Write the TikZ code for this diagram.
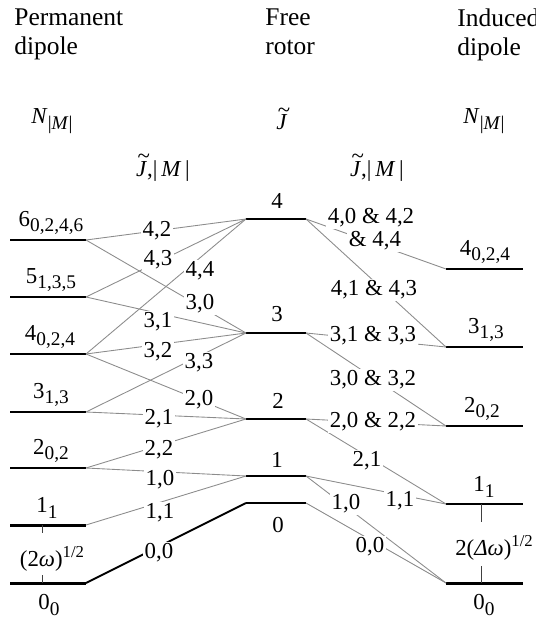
\documentclass[tikz,border=0pt]{standalone}
\usepackage{fontspec}
\setmainfont{Liberation Serif}
\usetikzlibrary{positioning}

\newcommand{\lsub}[1]{\raisebox{-0.5ex}{\fontsize{11}{13}\selectfont #1}}
\newcommand{\lsup}[1]{\raisebox{0.85ex}{\fontsize{9.5}{11}\selectfont #1}}
\newcommand{\Nm}{\textit{N}\lsub{|\textit{M}|}}
\newcommand{\Jt}{\textit{J}\llap{\raisebox{0.55em}{\textasciitilde}\kern-0.12em}}

\tikzset{
  every node/.style={font=\fontsize{13}{15.6}\selectfont},
  lvl/.style={line width=1.7pt},
  conn/.style={black!45, line width=0.5pt},
  lab/.style={fill=white, inner sep=1pt},
  head/.style={font=\fontsize{14.5}{17}\selectfont, align=left, anchor=north west, inner sep=0pt},
  tick/.style={black!75, line width=0.5pt},
}

\begin{document}
\begin{tikzpicture}[x=0.02cm, y=-0.02cm]
\useasboundingbox (0,0) rectangle (536,622);

% headings
\node[head] (hperm) at (14,8) {Permanent\\dipole};
\node[head] (hfree) at (265,8) {Free\\rotor};
\node[head] (hind) at (457,8) {Induced\\dipole};
\node (nperm) at (52,121) {\Nm};
\node (jfree) at (282,119) {\Jt};
\node (nind) at (484,121) {\Nm};
\node (jmleft) at (163,168) {\Jt,|\,\textit{M}\,|};
\node (jmright) at (377,168) {\Jt,|\,\textit{M}\,|};

% permanent dipole
\draw[lvl] (10,240) coordinate (L6w) -- (86,240) coordinate (L6e);
\draw[lvl] (10,297) coordinate (L5w) -- (86,297) coordinate (L5e);
\draw[lvl] (10,354) coordinate (L4w) -- (86,354) coordinate (L4e);
\draw[lvl] (10,412) coordinate (L3w) -- (86,412) coordinate (L3e);
\draw[lvl] (10,468) coordinate (L2w) -- (86,468) coordinate (L2e);
\draw[lvl] (10,525) coordinate (L1w) -- (86,525) coordinate (L1e);
\draw[lvl] (10,583) coordinate (L0w) -- (86,583) coordinate (L0e);
\node (tL6) at (51,223) {6\lsub{0,2,4,6}};
\node (tL5) at (51,280) {5\lsub{1,3,5}};
\node (tL4) at (50,337) {4\lsub{0,2,4}};
\node (tL3) at (51,395) {3\lsub{1,3}};
\node (tL2) at (51,451) {2\lsub{0,2}};
\node (tL1) at (47,508) {1\lsub{1}};
\node (tL0) at (49,605) {0\lsub{0}};
\node (wL) at (52,559) {(2\textit{ω})\lsup{1/2}};
\draw[tick] (42,525) -- (42,533);
\draw[tick] (42,575) -- (42,583);

% free rotor
\draw[lvl] (246,219) coordinate (M4w) -- (306,219) coordinate (M4e);
\draw[lvl] (246,333) coordinate (M3w) -- (306,333) coordinate (M3e);
\draw[lvl] (246,419) coordinate (M2w) -- (306,419) coordinate (M2e);
\draw[lvl] (246,476) coordinate (M1w) -- (306,476) coordinate (M1e);
\draw[lvl] (246,503) coordinate (M0w) -- (306,503) coordinate (M0e);
\node (tM4) at (277,201) {4};
\node (tM3) at (277,314) {3};
\node (tM2) at (278,401) {2};
\node (tM1) at (277,460) {1};
\node (tM0) at (278,525) {0};

% induced dipole
\draw[lvl] (446,269) coordinate (R4w) -- (523,269) coordinate (R4e);
\draw[lvl] (446,347) coordinate (R3w) -- (523,347) coordinate (R3e);
\draw[lvl] (446,426) coordinate (R2w) -- (523,426) coordinate (R2e);
\draw[lvl] (446,504) coordinate (R1w) -- (523,504) coordinate (R1e);
\draw[lvl] (446,583) coordinate (R0w) -- (523,583) coordinate (R0e);
\node (tR4) at (485,252) {4\lsub{0,2,4}};
\node (tR3) at (486,330) {3\lsub{1,3}};
\node (tR2) at (482,409) {2\lsub{0,2}};
\node (tR1) at (484,487) {1\lsub{1}};
\node (tR0) at (484,605) {0\lsub{0}};
\node (wR) at (494,548) {2(\textit{Δω})\lsup{1/2}};
\draw[tick] (481,504) -- (481,522);
\draw[tick] (481,566) -- (481,583);

% correlation lines, left
\draw[conn] (L6e) -- (M4w);
\draw[conn] (L6e) -- (M3w);
\draw[conn] (L5e) -- (M4w);
\draw[conn] (L5e) -- (M3w);
\draw[conn] (L4e) -- (M4w);
\draw[conn] (L4e) -- (M3w);
\draw[conn] (L4e) -- (M2w);
\draw[conn] (L3e) -- (M3w);
\draw[conn] (L3e) -- (M2w);
\draw[conn] (L2e) -- (M2w);
\draw[conn] (L2e) -- (M1w);
\draw[conn] (L1e) -- (M1w);
\draw[line width=1.1pt] (L0e) -- (M0w);
\node[lab] (a42) at (157,231) {4,2};
\node[lab] (a43) at (158,260) {4,3};
\node[lab] (a44) at (200,271) {4,4};
\node[lab] (a30) at (200,304) {3,0};
\node[lab] (a31) at (158,322) {3,1};
\node[lab] (a32) at (158,352) {3,2};
\node[lab] (a33) at (199,363) {3,3};
\node[lab] (a20) at (199,400) {2,0};
\node[lab] (a21) at (159,419) {2,1};
\node[lab] (a22) at (159,450) {2,2};
\node[lab] (a10) at (160,480) {1,0};
\node[lab] (a11) at (160,513) {1,1};
\node[lab] (a00) at (159,553) {0,0};

% correlation lines, right
\draw[conn] (M4e) -- (R4w);
\draw[conn] (M4e) -- (R3w);
\draw[conn] (M3e) -- (R3w);
\draw[conn] (M3e) -- (R2w);
\draw[conn] (M2e) -- (R2w);
\draw[conn] (M2e) -- (R1w);
\draw[conn] (M1e) -- (R1w);
\draw[conn] (M1e) -- (R0w);
\draw[conn] (M0e) -- (R0w);
\node[lab] (b4a) at (371,218) {4,0 \& 4,2};
\node[lab] (b4b) at (375,241) {\& 4,4};
\node[lab] (b41) at (374,290) {4,1 \& 4,3};
\node[lab] (b31) at (373,336) {3,1 \& 3,3};
\node[lab] (b30) at (373,380) {3,0 \& 3,2};
\node[lab] (b20) at (373,422) {2,0 \& 2,2};
\node[lab] (b21) at (367,461) {2,1};
\node[lab] (b11) at (400,501) {1,1};
\node[lab] (b10) at (346,504) {1,0};
\node[lab] (b00) at (370,547) {0,0};
\end{tikzpicture}
\end{document}
